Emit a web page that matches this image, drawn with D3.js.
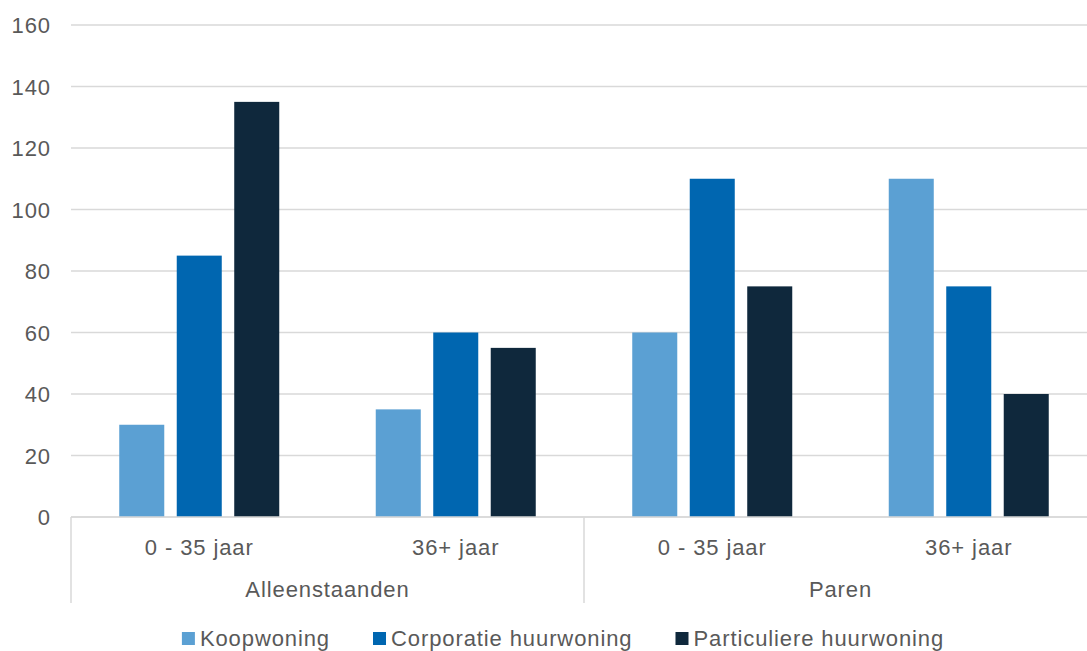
<!DOCTYPE html>
<html>
<head>
<meta charset="utf-8">
<script src="https://cdn.jsdelivr.net/npm/d3@7"></script>
<style>
  html, body { margin: 0; padding: 0; background: #fff; }
  svg { display: block; font-family: "Liberation Sans", Arial, sans-serif; }
</style>
</head>
<body>
<svg id="chart" width="1087" height="651"></svg>
<script>
// Households by type and age, split over housing tenure
const groups = ["Alleenstaanden", "Paren"];
const ageClasses = ["0 - 35 jaar", "36+ jaar"];
const seriesNames = ["Koopwoning", "Corporatie huurwoning", "Particuliere huurwoning"];
const seriesColors = ["#5BA0D3", "#0066B0", "#0F283C"];
const koopwoning = [30, 35, 60, 110];
const corporatie = [85, 60, 110, 75];
const particulier = [135, 55, 75, 40];
const yTicks = [0, 20, 40, 60, 80, 100, 120, 140, 160];

const series = [koopwoning, corporatie, particulier];
const categories = [];
groups.forEach(g => ageClasses.forEach(a => categories.push({ group: g, age: a, key: g + "|" + a })));

const svg = d3.select("#chart");
const plotLeft = 71, plotRight = 1097, plotTop = 25, plotBottom = 517;
const textColor = "#595959";
const gridColor = "#D9D9D9";
const fontSize = 22;
const spacing = "0.9px";

const x = d3.scaleBand().domain(categories.map(c => c.key)).range([plotLeft, plotRight]).padding(0);
const xSeries = d3.scaleBand().domain(d3.range(series.length))
  .range([48.25, x.bandwidth() - 48.25]).paddingInner(0.217).paddingOuter(0);
const y = d3.scaleLinear().domain([0, 160]).range([plotBottom, plotTop]);

// gridlines
svg.append("g").selectAll("line").data(yTicks).join("line")
  .attr("x1", plotLeft).attr("x2", plotRight)
  .attr("y1", d => y(d)).attr("y2", d => y(d))
  .attr("stroke", gridColor).attr("stroke-width", 1.5);

// y axis labels
const yAxis = d3.axisLeft(y).tickValues(yTicks).tickSize(0).tickPadding(0).tickFormat(d3.format("d"));
const yg = svg.append("g").attr("transform", `translate(${51},0)`).call(yAxis);
yg.select(".domain").remove();
yg.attr("font-family", null).attr("font-size", null);
yg.selectAll("text").attr("fill", textColor).style("font-size", fontSize + "px")
  .style("letter-spacing", spacing).attr("dy", "0.35em");

// bars
const barData = [];
categories.forEach((c, i) => series.forEach((s, j) => barData.push({ key: c.key, s: j, v: s[i] })));
svg.append("g").selectAll("rect").data(barData).join("rect")
  .attr("x", d => x(d.key) + xSeries(d.s))
  .attr("width", xSeries.bandwidth())
  .attr("y", d => y(d.v))
  .attr("height", d => y(0) - y(d.v))
  .attr("fill", d => seriesColors[d.s]);

// category axis: baseline, separators, labels
svg.append("line").attr("x1", plotLeft).attr("x2", plotRight).attr("y1", plotBottom).attr("y2", plotBottom)
  .attr("stroke", gridColor).attr("stroke-width", 1.5);
const sepX = [plotLeft, plotLeft + 2 * x.bandwidth(), plotRight];
svg.append("g").selectAll("line").data(sepX).join("line")
  .attr("x1", d => d).attr("x2", d => d).attr("y1", plotBottom).attr("y2", 603)
  .attr("stroke", gridColor).attr("stroke-width", 1.5);

svg.append("g").selectAll("text").data(categories).join("text")
  .attr("x", d => x(d.key) + x.bandwidth() / 2).attr("y", 555)
  .attr("text-anchor", "middle").attr("fill", textColor)
  .style("font-size", fontSize + "px").style("letter-spacing", spacing)
  .text(d => d.age);

svg.append("g").selectAll("text").data(groups).join("text")
  .attr("x", (d, i) => plotLeft + (2 * i + 1) * x.bandwidth())
  .attr("y", 597)
  .attr("text-anchor", "middle").attr("fill", textColor)
  .style("font-size", fontSize + "px").style("letter-spacing", spacing)
  .text(d => d);

// legend
const legend = svg.append("g");
const items = legend.selectAll("g").data(seriesNames).join("g");
items.append("rect").attr("width", 13).attr("height", 13).attr("y", 632)
  .attr("fill", (d, i) => seriesColors[i]);
items.append("text").attr("x", 18).attr("y", 646).attr("fill", textColor)
  .style("font-size", fontSize + "px").style("letter-spacing", spacing)
  .text(d => d);
const widths = [];
items.each(function () { widths.push(18 + this.querySelector("text").getComputedTextLength()); });
const gap = 43;
const total = d3.sum(widths) + gap * (widths.length - 1);
let cx = 563 - total / 2;
items.each(function (d, i) {
  d3.select(this).attr("transform", `translate(${cx},0)`);
  cx += widths[i] + gap;
});
</script>
</body>
</html>
